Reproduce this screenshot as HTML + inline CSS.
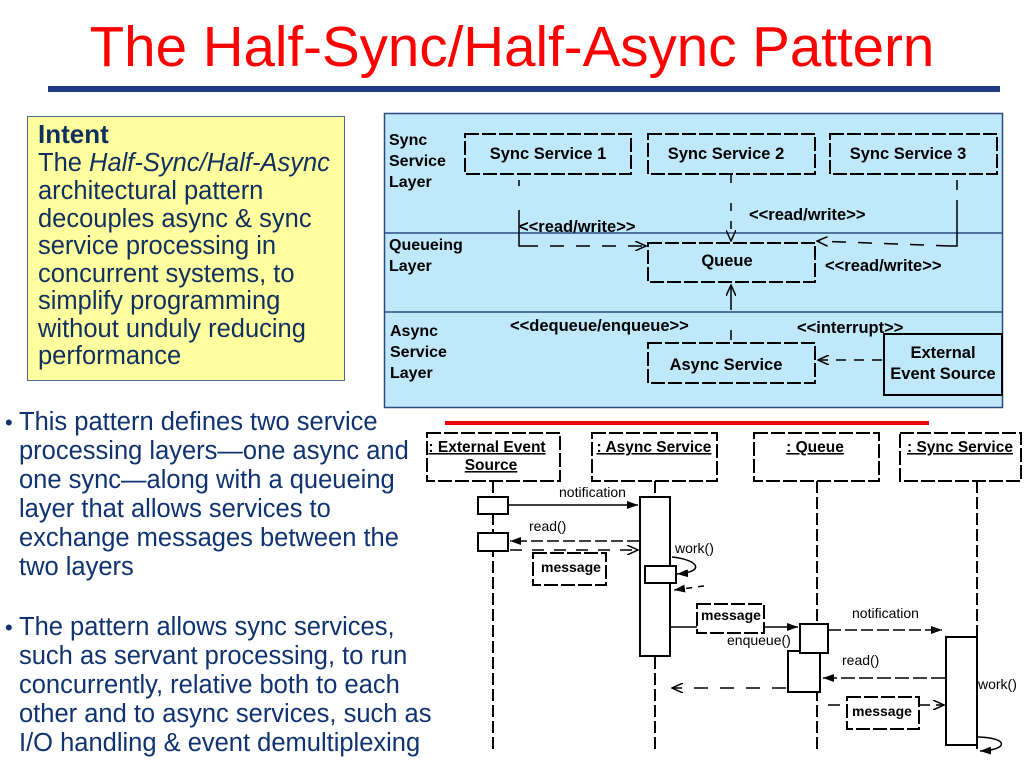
<!DOCTYPE html>
<html><head><meta charset="utf-8"><style>
body{margin:0;width:1024px;height:768px;background:#fff;position:relative;overflow:hidden;font-family:"Liberation Sans",sans-serif}
.t{position:absolute;white-space:nowrap}
#title{left:0;width:1024px;text-align:center;top:14px;font-size:56.5px;color:#f00}
#bar{position:absolute;left:48px;top:86px;width:952px;height:6px;background:#1f3a80}
#intent{position:absolute;left:27px;top:116px;width:318px;height:265px;background:#ffff9f;border:1px solid #4a6a90;box-sizing:border-box}
.it{position:absolute;left:38px;font-size:25.5px;color:#0f2f5f;white-space:nowrap;line-height:28px}
.bl{position:absolute;left:19px;font-size:25.5px;color:#0f3270;white-space:nowrap;line-height:29px}
.bd{position:absolute;left:5px;font-size:22px;color:#0f3270}
</style></head><body>
<div class="t" id="title">The Half-Sync/Half-Async Pattern</div>
<div id="bar"></div>
<div id="intent"></div>
<div class="it" style="top:120px;font-weight:bold;font-size:26px">Intent</div>
<div class="it" style="top:149px">The <i>Half-Sync/Half-Async</i></div>
<div class="it" style="top:177px">architectural pattern</div>
<div class="it" style="top:205px">decouples async &amp; sync</div>
<div class="it" style="top:232px">service processing in</div>
<div class="it" style="top:260px">concurrent systems, to</div>
<div class="it" style="top:287px">simplify programming</div>
<div class="it" style="top:315px">without unduly reducing</div>
<div class="it" style="top:342px">performance</div>

<div class="bd" style="top:410px">•</div>
<div class="bl" style="top:408px">This pattern defines two service<br>processing layers—one async and<br>one sync—along with a queueing<br>layer that allows services to<br>exchange messages between the<br>two layers</div>
<div class="bd" style="top:615px">•</div>
<div class="bl" style="top:613px">The pattern allows sync services,<br>such as servant processing, to run<br>concurrently, relative both to each<br>other and to async services, such as<br>I/O handling &amp; event demultiplexing</div>

<svg width="1024" height="768" style="position:absolute;left:0;top:0" font-family="Liberation Sans, sans-serif">
<defs>
<marker id="op" markerWidth="12" markerHeight="10" refX="11" refY="5" orient="auto" markerUnits="userSpaceOnUse"><path d="M0,0 L11,5 L0,10" fill="none" stroke="#000" stroke-width="1.5"/></marker>
<marker id="fa" markerWidth="12" markerHeight="8" refX="11" refY="4" orient="auto" markerUnits="userSpaceOnUse"><path d="M0,0 L11,4 L0,8z" fill="#000"/></marker>
</defs>
<rect x="384.5" y="113.5" width="618" height="294" fill="#bfe8fa" stroke="#2a4a80" stroke-width="1.5"/>
<line x1="384" y1="233" x2="1003" y2="233" stroke="#2a4a80" stroke-width="1.5"/>
<line x1="384" y1="312" x2="1003" y2="312" stroke="#2a4a80" stroke-width="1.5"/>
<g font-size="16" font-weight="bold" fill="#000">
<text x="389" y="145">Sync</text><text x="389" y="166">Service</text><text x="389" y="187">Layer</text>
<text x="389" y="250">Queueing</text><text x="389" y="271">Layer</text>
<text x="390" y="336">Async</text><text x="390" y="357">Service</text><text x="390" y="378">Layer</text>
</g>
<g fill="none" stroke="#000" stroke-width="2" stroke-dasharray="14,3">
<rect x="465" y="134" width="166" height="40"/>
<rect x="648" y="134" width="167" height="40"/>
<rect x="830" y="134" width="167" height="40"/>
<rect x="648" y="243" width="167" height="39"/>
<rect x="648" y="343" width="167" height="40"/>
</g>
<rect x="884" y="334" width="118" height="61" fill="none" stroke="#000" stroke-width="2"/>
<g font-size="16.5" font-weight="bold" text-anchor="middle">
<text x="548" y="159">Sync Service 1</text>
<text x="726" y="159">Sync Service 2</text>
<text x="908" y="159">Sync Service 3</text>
<text x="727" y="266">Queue</text>
<text x="726" y="370">Async Service</text>
<text x="943" y="358">External</text><text x="943" y="379">Event Source</text>
</g>
<g font-size="16.5" font-weight="bold">
<text x="519" y="232">&lt;&lt;read/write&gt;&gt;</text>
<text x="749" y="220">&lt;&lt;read/write&gt;&gt;</text>
<text x="825" y="271">&lt;&lt;read/write&gt;&gt;</text>
<text x="510" y="331">&lt;&lt;dequeue/enqueue&gt;&gt;</text>
<text x="797" y="333">&lt;&lt;interrupt&gt;&gt;</text>
</g>
<g stroke="#000" stroke-width="1.5" fill="none">
<path d="M519,180 V186 M519,210 V246 H524" />
<line x1="524" y1="246" x2="646" y2="246" stroke-dasharray="14,12" marker-end="url(#op)"/>
<path d="M731,175 V185 M731,203 V241" stroke-dasharray="8,10" marker-end="url(#op)"/>
<path d="M957,180 V190 M957,200 V246 H950"/>
<line x1="950" y1="246" x2="817" y2="241" stroke-dasharray="14,12" marker-end="url(#op)"/>
<line x1="731" y1="310" x2="731" y2="285" marker-end="url(#op)"/>
<line x1="731" y1="330" x2="731" y2="340"/>
<line x1="882" y1="360" x2="818" y2="360" stroke-dasharray="10,8" marker-end="url(#op)"/>
</g>
<rect x="445" y="421" width="484" height="4" fill="#e00"/>
<g fill="none" stroke="#000" stroke-width="2" stroke-dasharray="14,3">
<rect x="427" y="433" width="133" height="48"/>
<rect x="592" y="433" width="125" height="48"/>
<rect x="754" y="433" width="125" height="48"/>
<rect x="900" y="433" width="121" height="48"/>
</g>
<g stroke="#000" stroke-width="2" stroke-dasharray="12,4">
<line x1="493" y1="481" x2="493" y2="750"/>
<line x1="655" y1="481" x2="655" y2="750"/>
<line x1="817" y1="481" x2="817" y2="750"/>
<line x1="977" y1="481" x2="977" y2="750"/>
</g>
<g font-size="15.5" font-weight="bold" text-anchor="middle" text-decoration="underline">
<text x="487" y="452">: External Event</text><text x="491" y="470">Source</text>
<text x="654" y="452">: Async Service</text>
<text x="815" y="452">: Queue</text>
<text x="960" y="452">: Sync Service</text>
</g>
<g fill="#fff" stroke="#000" stroke-width="2">
<rect x="478" y="497" width="30" height="17"/>
<rect x="478" y="533" width="30" height="18"/>
<rect x="640" y="497" width="30" height="159"/>
<rect x="645" y="566" width="31" height="17"/>
<rect x="788" y="651" width="32" height="41"/>
<rect x="800" y="624" width="28" height="29"/>
<rect x="946" y="637" width="31" height="108"/>
</g>
<g stroke="#000" stroke-width="1.5" fill="none">
<line x1="508" y1="505" x2="638" y2="505" marker-end="url(#fa)"/>
<line x1="639" y1="541" x2="510" y2="541" stroke-dasharray="12,4" marker-end="url(#fa)"/>
<line x1="510" y1="550" x2="638" y2="550" stroke-dasharray="12,10" marker-end="url(#op)"/>
<path d="M672,557 C700,560 705,572 677,574" marker-end="url(#fa)"/>
<line x1="704" y1="586" x2="674" y2="590" stroke-dasharray="6,6" marker-end="url(#fa)"/>
<line x1="671" y1="627" x2="798" y2="627" marker-end="url(#fa)"/>
<line x1="829" y1="630" x2="942" y2="630" stroke-dasharray="12,4" marker-end="url(#fa)"/>
<line x1="786" y1="688" x2="672" y2="688" stroke-dasharray="14,12" marker-end="url(#op)"/>
<line x1="945" y1="678" x2="823" y2="678" stroke-dasharray="14,4" marker-end="url(#fa)"/>
<line x1="828" y1="705" x2="944" y2="705" stroke-dasharray="12,6" marker-end="url(#op)"/>
<path d="M978,737 C1010,738 1008,750 980,751" marker-end="url(#fa)"/>
</g>
<g fill="#fff" stroke="#000" stroke-width="2" stroke-dasharray="14,3">
<rect x="533" y="553" width="73" height="32"/>
<rect x="697" y="604" width="67" height="29"/>
<rect x="847" y="697" width="72" height="32"/>
</g>
<g font-size="14" font-weight="bold">
<text x="541" y="572">message</text>
<text x="701" y="620">message</text>
<text x="852" y="716">message</text>
</g>
<g font-size="14">
<text x="559" y="497">notification</text>
<text x="529" y="531">read()</text>
<text x="675" y="553">work()</text>
<text x="852" y="618">notification</text>
<text x="727" y="645">enqueue()</text>
<text x="842" y="665">read()</text>
<text x="978" y="689">work()</text>
</g>
</svg>
</body></html>
